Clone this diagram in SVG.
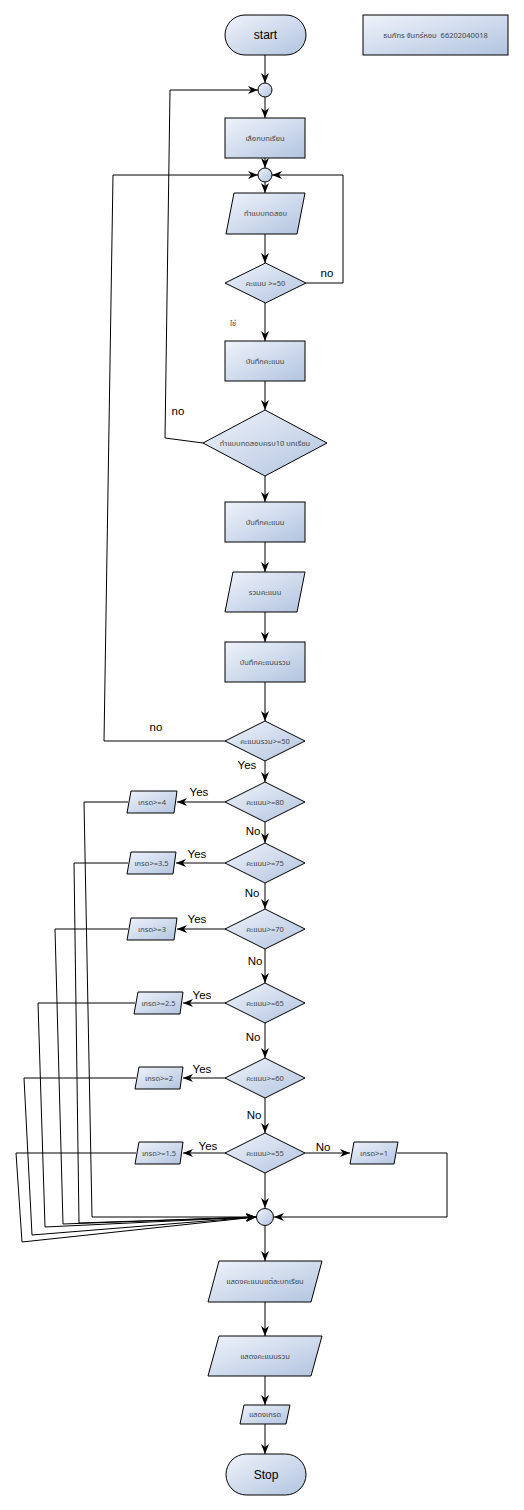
<svg xmlns="http://www.w3.org/2000/svg" width="524" height="1510" viewBox="0 0 524 1510">
<defs>
<linearGradient id="g" x1="0" y1="0" x2="1" y2="1">
<stop offset="0" stop-color="#eff3fa"/>
<stop offset="1" stop-color="#b2c4e0"/>
</linearGradient>
<marker id="a" viewBox="0 0 10 8" refX="10" refY="4" markerWidth="10" markerHeight="8" markerUnits="userSpaceOnUse" orient="auto">
<path d="M0,0 L10,4 L0,8 L3,4 Z" fill="#000"/>
</marker>
<style>
.s{fill:url(#g);stroke:#000;stroke-width:1}
.c{fill:none;stroke:#000;stroke-width:1;marker-end:url(#a)}
.t{font-family:"Noto Sans Thai","Noto Sans","DejaVu Sans",sans-serif;font-size:7.5px;fill:#444;text-anchor:middle;dominant-baseline:central}
.l{font-family:"Liberation Sans",Arial,sans-serif;font-size:11.5px;fill:#000;text-anchor:middle;dominant-baseline:central}
.b{font-family:"Liberation Sans",Arial,sans-serif;font-size:12px;fill:#000;text-anchor:middle;dominant-baseline:central}
</style>
</defs>
<rect width="524" height="1510" fill="#fff"/>

<g id="connectors">
<path class="c" d="M265,55 V83"/>
<path class="c" d="M265,97 V118"/>
<path class="c" d="M265,158 V168"/>
<path class="c" d="M265,182 V193"/>
<path class="c" d="M265,234 V263"/>
<path class="c" d="M306,283 H343 V175 H272"/>
<path class="c" d="M265,303 V341"/>
<path class="c" d="M265,381 V410"/>
<path class="c" d="M203,443 L165,438 L170,90 H258"/>
<path class="c" d="M265,476 V502"/>
<path class="c" d="M265,542 V572"/>
<path class="c" d="M265,612 V642"/>
<path class="c" d="M265,682 V721"/>
<path class="c" d="M225,741 H104 L113,175 H258"/>
<path class="c" d="M265,760 V782"/>
<path class="c" d="M225,802 H177"/>
<path class="c" d="M265,822 V843"/>
<path class="c" d="M225,863 H176"/>
<path class="c" d="M265,883 V909"/>
<path class="c" d="M226,929 H177"/>
<path class="c" d="M265,949 V983"/>
<path class="c" d="M226,1003 H183"/>
<path class="c" d="M265,1023 V1058"/>
<path class="c" d="M226,1078 H183"/>
<path class="c" d="M265,1098 V1133"/>
<path class="c" d="M226,1153 H183"/>
<path class="c" d="M305,1153 H350"/>
<path class="c" d="M265,1173 V1208"/>
<path class="c" d="M397,1153 H447 V1217 H274"/>
<path class="c" d="M128,802 H84 L92,1217 H256"/>
<path class="c" d="M128,863 H74 L79,1223 L256,1217"/>
<path class="c" d="M128,929 H55 L63,1224 L256,1217"/>
<path class="c" d="M135,1003 H38 L45,1227 L256,1217"/>
<path class="c" d="M136,1078 H24 L32,1235 L256,1217"/>
<path class="c" d="M136,1153 H16 L22,1242 L256,1217"/>
<path class="c" d="M265,1226 V1261"/>
<path class="c" d="M265,1302 V1336"/>
<path class="c" d="M265,1376 V1405"/>
<path class="c" d="M265,1424 V1454"/>
</g>

<g id="start"><rect class="s" x="225" y="15" width="81" height="40" rx="20"/><text class="b" x="265.5" y="35">start</text></g>
<g id="name"><rect class="s" x="363" y="15" width="145" height="40"/><text class="t" x="435.5" y="35">ธนภัทร จันทร์หอม&#160; 66202040018</text></g>
<g id="m1"><circle class="s" cx="265" cy="90" r="7"/></g>
<g id="choose"><rect class="s" x="225" y="118" width="80" height="40"/><text class="t" x="265" y="138">เลือกบทเรียน</text></g>
<g id="m2"><circle class="s" cx="265" cy="175" r="7"/></g>
<g id="test"><polygon class="s" points="234,193 305,193 297,234 226,234"/><text class="t" x="265.5" y="213.5">ทำแบบทดสอบ</text></g>
<g id="d50"><polygon class="s" points="265.5,263 306,283 265.5,303 225,283"/><text class="t" x="265.5" y="283">คะแนน &gt;=50</text></g>
<text class="l" x="327" y="273">no</text>
<text class="t" x="233" y="323">ใช่</text>
<g id="save1"><rect class="s" x="225" y="341" width="80" height="40"/><text class="t" x="265" y="361">บันทึกคะแนน</text></g>
<g id="d10"><polygon class="s" points="265,410 327,443 265,476 203,443"/><text class="t" x="265" y="443">ทำแบบทดสอบครบ10 บทเรียน</text></g>
<text class="l" x="178" y="411">no</text>
<g id="save2"><rect class="s" x="225" y="502" width="80" height="40"/><text class="t" x="265" y="522">บันทึกคะแนน</text></g>
<g id="sum"><polygon class="s" points="233,572 305,572 297,612 225,612"/><text class="t" x="265" y="592">รวมคะแนน</text></g>
<g id="saveSum"><rect class="s" x="225" y="642" width="80" height="40"/><text class="t" x="265" y="662">บันทึกคะแนนรวม</text></g>
<g id="dSum"><polygon class="s" points="265,721 305,741 265,761 225,741"/><text class="t" x="265" y="741">คะแนนรวม&gt;=50</text></g>
<text class="l" x="156" y="727">no</text>
<text class="l" x="247" y="765">Yes</text>

<g id="d80"><polygon class="s" points="265,782 305,802 265,822 225,802"/><text class="t" x="265" y="802">คะแนน&gt;=80</text></g>
<g id="g4"><polygon class="s" points="131,791 177,791 174,813 127,813"/><text class="t" x="152" y="802">เกรด&gt;=4</text></g>
<text class="l" x="199" y="792">Yes</text>
<text class="l" x="253" y="831">No</text>

<g id="d75"><polygon class="s" points="265,843 305,863 265,883 225,863"/><text class="t" x="265" y="863">คะแนน&gt;=75</text></g>
<g id="g35"><polygon class="s" points="131,852 176,852 173,874 127,874"/><text class="t" x="151.5" y="863">เกรด&gt;=3.5</text></g>
<text class="l" x="197" y="854">Yes</text>
<text class="l" x="252" y="893">No</text>

<g id="d70"><polygon class="s" points="265,909 305,929 265,949 225,929"/><text class="t" x="265" y="929">คะแนน&gt;=70</text></g>
<g id="g3"><polygon class="s" points="131,918 177,918 174,940 127,940"/><text class="t" x="152" y="929">เกรด&gt;=3</text></g>
<text class="l" x="197" y="919">Yes</text>
<text class="l" x="255" y="961">No</text>

<g id="d65"><polygon class="s" points="265,983 305,1003 265,1023 225,1003"/><text class="t" x="265" y="1003">คะแนน&gt;=65</text></g>
<g id="g25"><polygon class="s" points="138,992 183,992 180,1014 134,1014"/><text class="t" x="158.5" y="1003">เกรด&gt;=2.5</text></g>
<text class="l" x="202" y="995">Yes</text>
<text class="l" x="253" y="1037">No</text>

<g id="d60"><polygon class="s" points="265,1058 305,1078 265,1098 225,1078"/><text class="t" x="265" y="1078">คะแนน&gt;=60</text></g>
<g id="g2"><polygon class="s" points="139,1067 183,1067 180,1089 135,1089"/><text class="t" x="159" y="1078">เกรด&gt;=2</text></g>
<text class="l" x="202" y="1069">Yes</text>
<text class="l" x="254" y="1115">No</text>

<g id="d55"><polygon class="s" points="265,1133 305,1153 265,1173 225,1153"/><text class="t" x="265" y="1153">คะแนน&gt;=55</text></g>
<g id="g15"><polygon class="s" points="139,1142 183,1142 180,1164 135,1164"/><text class="t" x="159" y="1153">เกรด&gt;=1.5</text></g>
<text class="l" x="208" y="1146">Yes</text>
<text class="l" x="323" y="1147">No</text>
<g id="g1"><polygon class="s" points="354,1142 398,1142 394,1164 350,1164"/><text class="t" x="374" y="1153">เกรด&gt;=1</text></g>

<g id="m3"><circle class="s" cx="265" cy="1217" r="8.5"/></g>
<g id="show1"><polygon class="s" points="219,1261 322,1261 311,1302 208,1302"/><text class="t" x="265" y="1281.5">แสดงคะแนนแต่ละบทเรียน</text></g>
<g id="show2"><polygon class="s" points="219,1336 322,1336 311,1376 208,1376"/><text class="t" x="265" y="1356">แสดงคะแนนรวม</text></g>
<g id="show3"><polygon class="s" points="244,1405 290,1405 286,1424 240,1424"/><text class="t" x="265" y="1414.5">แสดงเกรด</text></g>
<g id="stop"><rect class="s" x="226" y="1454" width="80" height="41" rx="20.5"/><text class="b" x="266" y="1474.5">Stop</text></g>
</svg>
